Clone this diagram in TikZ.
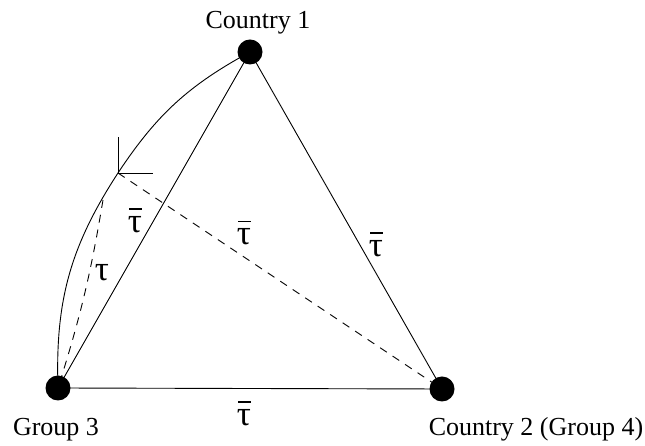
\documentclass[tikz,border=0pt]{standalone}
\usepackage{fontspec}
\setmainfont{Liberation Serif}
\usetikzlibrary{positioning,calc}

\newcommand{\tbar}{\makebox[0pt][l]{\hspace{0.03em}\raisebox{0.64em}{\rule{0.36em}{0.04em}}}τ}

\begin{document}
\begin{tikzpicture}[
    x=1pt, y=1pt,
    vertex/.style={circle, fill=black, inner sep=0pt, minimum size=25pt},
    edge/.style={line width=0.9pt},
    dashedge/.style={line width=0.9pt, dash pattern=on 8pt off 7pt},
    lbl/.style={font=\fontsize{26}{30}\selectfont, anchor=base, inner sep=0pt},
    tlbl/.style={font=\fontsize{35}{40}\selectfont, inner sep=0pt}
]
\useasboundingbox (0,0) rectangle (645,446);

% Players
\node[vertex] (country1) at (250,394) {};
\node[vertex] (group3) at (58,58) {};
\node[vertex] (country2) at (442,57) {};
\coordinate (split) at (118,273);
\coordinate (onarc) at (103,246);

% Names
\node[lbl] (nameC1) at (258,417) {Country 1};
\node[lbl] (nameG3) at (56,10) {Group 3};
\node[lbl] (nameC2) at (536,10) {Country 2 (Group 4)};

% Triangle
\draw[edge] (country1.center) -- (country2.center);
\draw[edge] (country1.center) -- (group3.center);
\draw[edge] (group3.center) -- (country2.center);

% Arc through the split point
\draw[edge] (country1.center) to[bend right=14] (split) to[bend right=17.5] (group3.center);

% Corner mark
\draw[edge] (split) -- ++(0,36);
\draw[edge] (split) -- ++(35,0);

% Dashed links
\draw[dashedge] (split) -- (country2.center);
\draw[dashedge] (onarc) to[bend left=4] (group3.center);

% Tariffs
\node[tlbl] (tauLeft) at (135,225.5) {\tbar};
\node[tlbl] (tauMid) at (244,213) {\tbar};
\node[tlbl] (tauRight) at (376,201.5) {\tbar};
\node[tlbl] (tauBottom) at (244,32.5) {\tbar};
\node[tlbl] (tauArc) at (102,173) {τ};

\end{tikzpicture}
\end{document}
